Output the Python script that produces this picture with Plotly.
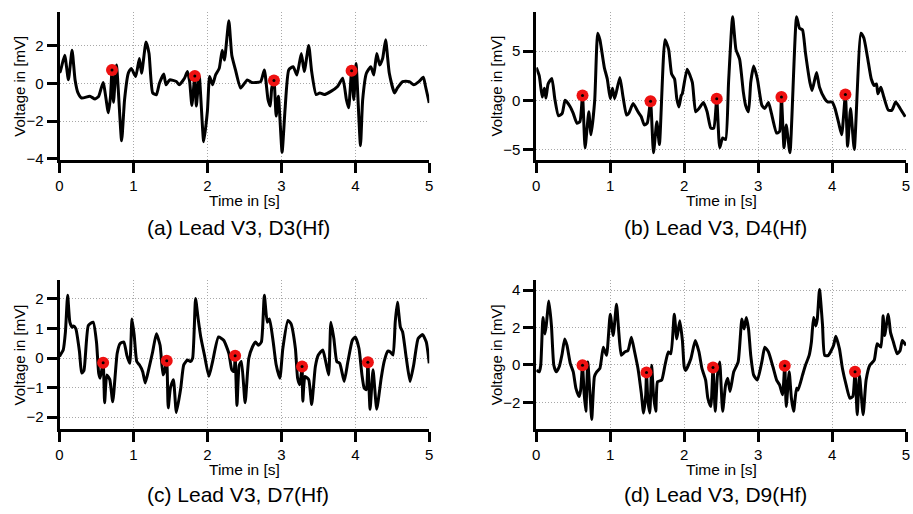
import plotly.graph_objects as go

# ---------------- data (time in s, voltage in mV) ----------------
a_pts = [(0.0, 0.6), (0.01, 0.63), (0.07, 1.5), (0.12, 0.2), (0.17, 1.76), (0.21, 0.2), (0.25, -0.5), (0.30, -0.77),
         (0.41, -0.68), (0.48, -0.82), (0.53, -0.68), (0.59, 0.05), (0.66, -1.55), (0.69, -0.68), (0.71, 0.72),
         (0.73, -1.0), (0.77, 0.98), (0.84, -3.04), (0.88, -0.85), (0.93, 0.54), (0.97, 0.8), (1.03, 0.37),
         (1.08, 1.33), (1.11, 0.54), (1.17, 2.2), (1.21, 1.6), (1.26, -0.5), (1.31, -0.6), (1.35, 0.0),
         (1.41, 0.5), (1.44, -0.07), (1.49, 0.19), (1.58, 0.1), (1.62, -0.07), (1.69, 0.28), (1.73, 0.63),
         (1.76, 0.1), (1.79, -1.17), (1.83, 0.4), (1.85, -1.2), (1.89, 0.37), (1.95, -3.09), (2.0, -1.47),
         (2.03, 0.37), (2.07, -0.07), (2.11, 0.45), (2.16, 0.8), (2.2, 1.76), (2.23, 1.24), (2.29, 3.33),
         (2.33, 1.5), (2.38, 0.72), (2.45, -0.24), (2.54, 0.19), (2.6, 0.05), (2.72, 0.1), (2.77, 0.72),
         (2.82, -0.86), (2.85, -1.2), (2.87, -0.24), (2.9, 0.16), (2.93, -1.73), (2.96, -0.68), (3.01, -3.65),
         (3.05, -1.38), (3.1, 0.72), (3.16, 0.89), (3.21, 0.45), (3.27, 1.59), (3.31, 0.63), (3.37, 2.02),
         (3.41, 0.63), (3.47, -0.59), (3.52, -0.5), (3.58, -0.59), (3.67, -0.42), (3.76, -0.16), (3.83, 0.28),
         (3.88, -0.86), (3.91, -1.29), (3.95, 0.68), (3.98, -0.86), (4.01, 1.06), (4.07, -3.3), (4.1, -0.86),
         (4.15, 0.54), (4.21, 0.89), (4.25, 0.45), (4.29, 1.59), (4.33, 0.98), (4.37, 1.33), (4.41, 2.32),
         (4.46, 0.54), (4.53, -0.5), (4.57, -0.24), (4.64, 0.1), (4.73, 0.1), (4.79, -0.07), (4.86, 0.1),
         (4.92, 0.33), (4.95, -0.16), (5.0, -1.03)]
a_marks = [(0.71, 0.72), (1.83, 0.4), (2.9, 0.16), (3.95, 0.68)]

b_pts = [(0.0, 3.33), (0.04, 2.5), (0.08, 0.33), (0.11, 1.23), (0.13, 0.23), (0.16, 1.67), (0.21, 2.23),
         (0.25, 0.17), (0.30, -1.57), (0.35, -1.33), (0.39, 0.0), (0.46, -0.67), (0.5, -1.33), (0.55, -2.33),
         (0.59, -2.17), (0.625, 0.5), (0.66, -4.83), (0.71, -1.17), (0.74, -3.5), (0.79, 0.0), (0.83, 6.83),
         (0.86, 6.17), (0.92, 3.33), (0.96, 2.17), (1.0, 0.17), (1.03, 1.23), (1.06, 0.17), (1.13, 2.33),
         (1.17, 0.5), (1.22, -1.5), (1.25, -1.33), (1.31, -0.33), (1.375, -1.17), (1.42, -1.67), (1.46, -2.5),
         (1.5, -2.33), (1.545, -0.1), (1.585, -5.33), (1.63, -2.17), (1.665, -4.5), (1.74, 6.17), (1.79, 5.17),
         (1.83, 2.67), (1.87, 2.17), (1.9, 0.17), (1.93, -0.67), (1.96, 0.5), (1.975, 0.67), (2.04, 3.17),
         (2.11, 1.83), (2.155, -1.17), (2.2, -0.83), (2.26, -0.23), (2.31, -1.17), (2.36, -2.83), (2.4, -2.83),
         (2.44, 0.17), (2.48, -4.83), (2.52, -3.83), (2.56, -4.0), (2.6, 1.83), (2.655, 8.5), (2.7, 5.17),
         (2.75, 4.17), (2.8, 0.83), (2.83, -0.5), (2.87, -1.17), (2.9, 1.83), (2.94, 3.5), (2.99, 2.17),
         (3.05, -0.5), (3.09, -0.83), (3.14, -0.23), (3.18, -1.33), (3.25, -3.33), (3.29, -3.17), (3.315, 0.33),
         (3.35, -4.83), (3.38, -2.5), (3.43, -5.33), (3.52, 8.5), (3.56, 7.33), (3.6, 7.17), (3.64, 4.83),
         (3.7, 1.83), (3.73, 1.0), (3.79, 2.83), (3.83, 1.33), (3.9, 0.17), (3.94, -0.17), (4.0, -0.17),
         (4.04, -0.83), (4.09, -2.33), (4.13, -3.5), (4.18, 0.6), (4.21, -4.67), (4.25, -0.83), (4.3, -5.0),
         (4.39, 6.83), (4.43, 6.33), (4.48, 4.33), (4.53, 2.17), (4.57, 1.5), (4.6, 1.67), (4.62, 0.67),
         (4.66, 1.33), (4.7, 0.33), (4.76, -1.0), (4.81, -1.0), (4.86, -0.17), (4.92, -0.83), (4.99, -1.67)]
b_marks = [(0.625, 0.5), (1.545, -0.1), (2.44, 0.17), (3.315, 0.33), (4.18, 0.6)]

c_pts = [(0.0, 0.05), (0.01, 0.1), (0.05, 0.27), (0.08, 0.88), (0.11, 2.12), (0.14, 1.21), (0.17, 1.04),
         (0.19, 1.08), (0.22, 0.99), (0.27, 0.21), (0.30, -0.51), (0.33, -0.43), (0.39, 1.1), (0.455, 1.21),
         (0.5, 0.54), (0.53, -0.51), (0.55, -0.68), (0.59, -0.16), (0.61, -1.51), (0.64, -0.57), (0.68, -0.73),
         (0.72, -1.48), (0.78, 0.16), (0.82, 0.49), (0.87, 0.54), (0.91, 0.1), (0.95, -0.18), (0.98, 1.32),
         (1.01, 0.77), (1.045, -0.12), (1.08, -0.23), (1.125, -0.46), (1.16, -0.84), (1.21, -0.34), (1.26, 0.21),
         (1.31, 0.82), (1.36, 0.43), (1.40, -0.57), (1.42, -0.46), (1.45, -0.09), (1.47, -1.68), (1.5, -1.01),
         (1.54, -0.73), (1.58, -1.84), (1.64, -1.01), (1.68, -0.23), (1.73, -0.07), (1.77, -0.12), (1.8, -0.01),
         (1.84, 2.01), (1.875, 1.32), (1.91, 0.71), (1.96, 0.1), (2.02, -0.62), (2.07, -0.12), (2.15, 0.71),
         (2.22, 0.6), (2.29, 0.16), (2.33, -0.4), (2.36, -0.46), (2.375, 0.08), (2.40, -1.6), (2.43, -0.25),
         (2.46, -0.12), (2.51, -1.51), (2.56, -0.01), (2.61, 0.38), (2.65, 0.54), (2.69, 0.43), (2.73, 0.54),
         (2.77, 2.12), (2.81, 1.21), (2.84, 1.32), (2.89, 0.54), (2.93, -0.23), (2.98, -0.68), (3.02, 0.32),
         (3.09, 1.27), (3.13, 1.16), (3.19, 0.32), (3.22, -0.68), (3.25, -0.9), (3.28, -0.29), (3.29, -1.46),
         (3.32, -0.62), (3.37, -0.73), (3.41, -1.57), (3.46, -0.29), (3.5, 0.1), (3.56, 0.27), (3.6, -0.12),
         (3.64, -0.57), (3.67, 1.21), (3.71, 0.66), (3.75, -0.12), (3.79, -0.18), (3.85, -0.79), (3.9, -0.12),
         (3.96, 0.6), (4.0, 0.71), (4.05, 0.32), (4.09, -0.57), (4.12, -1.01), (4.15, -1.07), (4.17, -0.14),
         (4.2, -1.73), (4.24, -0.4), (4.29, -1.73), (4.35, -0.68), (4.39, -0.12), (4.44, 0.23), (4.47, 0.21),
         (4.51, 0.1), (4.54, 1.21), (4.57, 1.88), (4.61, 1.04), (4.64, 0.88), (4.69, -0.01), (4.74, -0.79),
         (4.79, -0.23), (4.85, 0.66), (4.91, 0.79), (4.96, 0.54), (5.0, -0.18)]
c_marks = [(0.59, -0.16), (1.45, -0.09), (2.375, 0.08), (3.28, -0.29), (4.17, -0.14)]

d_pts = [(0.0, -0.28), (0.04, -0.37), (0.06, -0.02), (0.09, 2.53), (0.116, 1.65), (0.134, 2.09), (0.17, 3.41),
         (0.205, 2.09), (0.237, -0.02), (0.27, -0.37), (0.31, -0.1), (0.35, 0.6), (0.384, 1.39), (0.415, 1.04),
         (0.46, 0.07), (0.5, -0.37), (0.536, -1.25), (0.58, -1.69), (0.6, -1.34), (0.625, -0.02), (0.647, -1.51),
         (0.67, -2.48), (0.696, 0.16), (0.73, -1.78), (0.75, -2.92), (0.786, -0.63), (0.817, -0.37), (0.86, -0.19),
         (0.906, 0.95), (0.95, 0.51), (1.0, 2.71), (1.04, 1.57), (1.085, 3.24), (1.116, 1.74), (1.15, 0.51),
         (1.196, 0.69), (1.24, 0.77), (1.286, 1.48), (1.33, 0.69), (1.375, -0.19), (1.42, -1.51), (1.45, -2.57),
         (1.48, -1.6), (1.49, -0.4), (1.51, -1.95), (1.535, -2.57), (1.56, -0.02), (1.585, -1.6), (1.616, -2.48),
         (1.64, -0.9), (1.696, -0.81), (1.74, -0.02), (1.786, 0.69), (1.82, 0.6), (1.866, 2.71), (1.9, 1.39),
         (1.94, 2.36), (1.976, 1.3), (2.0, -0.1), (2.02, -0.3), (2.09, 0.33), (2.15, 1.3), (2.2, 0.69),
         (2.24, -0.19), (2.29, -0.81), (2.32, -1.78), (2.36, -2.22), (2.39, -0.14), (2.42, -2.48), (2.45, -0.55),
         (2.48, 0.16), (2.52, -2.48), (2.56, -1.07), (2.59, -0.72), (2.62, -1.42), (2.67, -0.37), (2.73, 0.16),
         (2.78, 2.45), (2.81, 1.92), (2.84, 2.53), (2.87, 1.92), (2.9, 0.51), (2.94, -0.55), (2.99, -0.81),
         (3.05, 0.16), (3.09, 0.95), (3.14, 0.69), (3.2, -0.1), (3.25, -0.81), (3.29, -1.07), (3.33, -1.6),
         (3.36, -0.05), (3.38, -2.22), (3.42, -0.37), (3.45, -1.78), (3.48, -2.48), (3.52, -1.25), (3.54, -1.34),
         (3.6, -0.55), (3.64, -0.02), (3.69, 0.51), (3.72, 1.21), (3.75, 2.53), (3.78, 2.09), (3.8, 2.45),
         (3.83, 4.03), (3.87, 2.18), (3.9, 0.51), (3.95, 0.51), (4.02, 1.04), (4.05, 1.53), (4.1, 0.86),
         (4.14, -0.19), (4.19, -1.07), (4.24, -1.78), (4.28, -1.69), (4.31, -0.37), (4.34, -2.66), (4.37, -0.55),
         (4.42, -2.66), (4.46, -0.81), (4.51, -0.02), (4.57, 0.25), (4.61, 1.13), (4.66, 0.95), (4.69, 2.62),
         (4.71, 1.57), (4.76, 2.71), (4.79, 1.74), (4.83, 1.21), (4.88, 0.6), (4.92, 0.77), (4.95, 1.3), (5.0, 1.04)]
d_marks = [(0.625, -0.02), (1.49, -0.4), (2.39, -0.14), (3.36, -0.05), (4.31, -0.37)]

captions = ["(a) Lead V3, D3(Hf)", "(b) Lead V3, D4(Hf)", "(c) Lead V3, D7(Hf)", "(d) Lead V3, D9(Hf)"]
y_ranges = [[-4.05, 3.8], [-6.05, 9.0], [-2.4, 2.63], [-3.43, 4.53]]
y_dticks = [2, 5, 1, 2]
x_ticks = [0, 1, 2, 3, 4, 5]
x_title = "Time in [s]"
y_title = "Voltage in [mV]"

# ---------------- layout geometry (pixels) ----------------
W, H = 913, 514
boxes = [  # (left, right, top, bottom) in px
    (56, 429, 12, 162),
    (537, 910, 12, 162),
    (56, 429, 284, 435),
    (537, 910, 284, 435),
]
FONT = "Liberation Sans, Arial, Helvetica, sans-serif"

fig = go.Figure()
annotations = []
series = [(a_pts, a_marks), (b_pts, b_marks), (c_pts, c_marks), (d_pts, d_marks)]

for i, ((pts, marks), (l, r, t, b)) in enumerate(zip(series, boxes)):
    k = "" if i == 0 else str(i + 1)
    xa, ya = "x" + k, "y" + k
    ts = [p[0] for p in pts]
    vs = [p[1] for p in pts]
    fig.add_trace(go.Scatter(x=ts, y=vs, mode="lines", xaxis=xa, yaxis=ya,
                             line=dict(color="black", width=3, shape="spline", smoothing=0.5),
                             showlegend=False))
    mt = [m[0] for m in marks]
    mv = [m[1] for m in marks]
    fig.add_trace(go.Scatter(x=mt, y=mv, mode="markers", xaxis=xa, yaxis=ya,
                             marker=dict(color="#ee1111", size=12, line=dict(width=0)), showlegend=False))
    fig.add_trace(go.Scatter(x=mt, y=mv, mode="markers", xaxis=xa, yaxis=ya,
                             marker=dict(color="black", size=3, line=dict(width=0)), showlegend=False))

    common = dict(showline=True, linewidth=3, linecolor="black", ticks="outside", ticklen=10,
                  tickwidth=2.5, tickcolor="black", showgrid=True, gridcolor="#a8a8a8", gridwidth=1,
                  griddash="1px,2px", zeroline=False, tickfont=dict(family=FONT, size=15, color="black"))
    fig.update_layout(**{
        ("xaxis" + k): dict(domain=[l / W, r / W], range=[0, 5], tickvals=x_ticks, anchor=ya, **common),
        ("yaxis" + k): dict(domain=[1 - b / H, 1 - t / H], range=y_ranges[i], dtick=y_dticks[i], tick0=0,
                            anchor=xa, **common),
    })
    cx = (l + r) / 2
    annotations.append(dict(text=x_title, x=cx / W, y=1 - (b + 41) / H, xref="paper", yref="paper",
                            showarrow=False, xanchor="center", yanchor="middle",
                            font=dict(family=FONT, size=15.5, color="black")))
    annotations.append(dict(text=y_title, x=(l - 40) / W, y=1 - ((t + b) / 2) / H, xref="paper", yref="paper",
                            showarrow=False, xanchor="center", yanchor="middle", textangle=-90,
                            font=dict(family=FONT, size=15, color="black")))
    cap_y = 230.7 if i < 2 else 501
    annotations.append(dict(text=captions[i], x=(cx - 6) / W, y=1 - cap_y / H, xref="paper", yref="paper",
                            showarrow=False, xanchor="center", yanchor="middle",
                            font=dict(family=FONT, size=21, color="black")))

fig.update_layout(width=W, height=H, margin=dict(l=0, r=0, t=0, b=0), paper_bgcolor="white",
                  plot_bgcolor="white", annotations=annotations, showlegend=False)

fig.write_html("out.html")
